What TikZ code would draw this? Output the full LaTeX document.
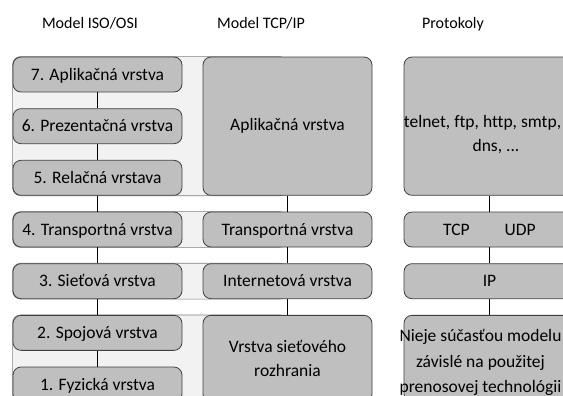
\documentclass[tikz,border=0pt]{standalone}
\usepackage{fontspec}
\setmainfont{Carlito}[Ligatures=NoCommon]
\usepackage{xcolor}
\usepackage{tikz}
\usetikzlibrary{positioning, backgrounds}

\definecolor{layerfill}{HTML}{BFBFBF}
\definecolor{layerline}{HTML}{404040}
\definecolor{bandfill}{HTML}{F2F2F2}
\definecolor{bandline}{HTML}{7F7F7F}

\begin{document}
\begin{tikzpicture}[
            x=1pt, y=-1pt,
            node distance=15.87pt,
            layer/.style={rectangle, rounded corners=8pt, draw=layerline, fill=layerfill, line width=0.8pt,
                minimum width=169pt, minimum height=35pt, inner sep=0pt, align=center,
                font=\fontsize{17.5}{24}\selectfont},
            single/.style={text height=11.5pt, text depth=0pt},
            wide/.style={minimum width=171pt},
            band/.style={rounded corners=8pt, draw=bandline, fill=bandfill, line width=0.6pt},
            title/.style={anchor=base, font=\fontsize{16}{19}\selectfont},
            link/.style={draw=black, line width=0.8pt}
        ]
        \useasboundingbox (0,0) rectangle (563,396);

        % Column titles
        \node[title] (osititle) at (90,28.3) {Model ISO/OSI};
        \node[title] (tcptitle) at (261,28.3) {Model TCP/IP};
        \node[title] (prottitle) at (453,28.3) {Protokoly};

        % ISO/OSI model
        \node[layer, single] (osi7) at (97.5,74.5) {7. Aplikačná vrstva};
        \node[layer, single, below=of osi7] (osi6) {6. Prezentačná vrstva};
        \node[layer, single, below=of osi6] (osi5) {5. Relačná vrstava};
        \node[layer, single, below=of osi5] (osi4) {4. Transportná vrstva};
        \node[layer, single, below=of osi4] (osi3) {3. Sieťová vrstva};
        \node[layer, single, below=of osi3] (osi2) {2. Spojová vrstva};
        \node[layer, single, below=of osi2] (osi1) {1. Fyzická vrstva};

        % TCP/IP model
        \node[layer, minimum height=138.33pt, right=20.2pt of osi6] (tcpapp) {Aplikačná vrstva};
        \node[layer, single, right=20.2pt of osi4] (tcptrans) {Transportná vrstva};
        \node[layer, single, right=20.2pt of osi3] (tcpnet) {Internetová vrstva};
        \node[layer, minimum height=86.67pt, below=of tcpnet] (tcplink) {Vrstva sieťového\\ rozhrania};

        % Protocols
        \node[layer, wide, minimum height=138.33pt, right=31.2pt of tcpapp] (protapp) {};
        \node[align=center, font=\fontsize{17.5}{24}\selectfont, xshift=-7pt, yshift=-8.5pt] (protapptext) at (protapp) {telnet, ftp, http, smtp,\\ \hspace*{27pt}dns, ...};
        \node[layer, wide, single, right=31.2pt of tcptrans] (prottrans) {TCP\hspace{35pt}UDP};
        \node[layer, wide, single, right=31.2pt of tcpnet] (protnet) {IP};
        \node[layer, wide, minimum height=86.67pt, below=of protnet] (protlink) {};
        \node[align=center, font=\fontsize{17.5}{25.5}\selectfont, xshift=-9pt, yshift=-4pt] (protlinktext) at (protlink) {Nieje súčasťou modelu\\ závislé na použitej\\ prenosovej technológii};

        % Bands behind the matching layers
        \begin{scope}[on background layer]
            \draw[band] (osi7.north west) rectangle (tcpapp.south);
            \draw[band] (osi4.north west) rectangle (tcptrans.south);
            \draw[band] (osi3.north west) rectangle (tcpnet.south);
            \draw[band] (osi2.north west) rectangle (tcplink.south);
        \end{scope}

        % Connections
        \foreach \a/\b in {osi7/osi6, osi6/osi5, osi5/osi4, osi4/osi3, osi3/osi2, osi2/osi1,
                tcpapp/tcptrans, tcptrans/tcpnet, tcpnet/tcplink,
                protapp/prottrans, prottrans/protnet, protnet/protlink}
            \draw[link] (\a.south) -- (\b.north);

    \end{tikzpicture}
\end{document}
